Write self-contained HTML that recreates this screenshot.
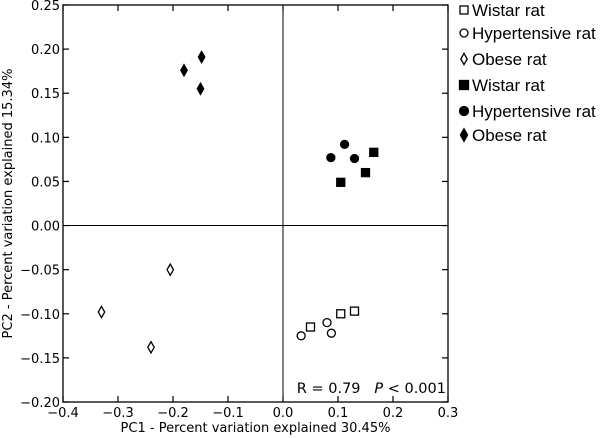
<!DOCTYPE html>
<html><head><meta charset="utf-8"><style>
body{margin:0;background:#fff;}
svg{display:block;font-family:"DejaVu Sans","Liberation Sans",sans-serif;}
</style></head><body>
<svg id="chart" width="600" height="438" viewBox="0 0 600 438">
<g id="axes"></g><g id="marks"></g><g id="legend"></g>
</svg>
<script>
const xTicks=[-0.4,-0.3,-0.2,-0.1,0.0,0.1,0.2,0.3];
const yTicks=[-0.20,-0.15,-0.10,-0.05,0.00,0.05,0.10,0.15,0.20,0.25];
const groupNames=["Wistar rat","Hypertensive rat","Obese rat","Wistar rat","Hypertensive rat","Obese rat"];
const groupShapes=["square","circle","diamond","square","circle","diamond"];
const groupFilled=[false,false,false,true,true,true];
const wistarOpenX=[0.105,0.13,0.05], wistarOpenY=[-0.1,-0.097,-0.115];
const hyperOpenX=[0.033,0.08,0.088], hyperOpenY=[-0.125,-0.11,-0.122];
const obeseOpenX=[-0.205,-0.33,-0.24], obeseOpenY=[-0.05,-0.098,-0.138];
const wistarFillX=[0.105,0.15,0.165], wistarFillY=[0.049,0.06,0.083];
const hyperFillX=[0.087,0.112,0.13], hyperFillY=[0.077,0.092,0.076];
const obeseFillX=[-0.18,-0.148,-0.15], obeseFillY=[0.176,0.191,0.155];
const seriesX=[wistarOpenX,hyperOpenX,obeseOpenX,wistarFillX,hyperFillX,obeseFillX];
const seriesY=[wistarOpenY,hyperOpenY,obeseOpenY,wistarFillY,hyperFillY,obeseFillY];

const L=63,R=448,T=5,B=402;
const xs=v=>L+(v+0.4)/0.7*(R-L);
const ys=v=>B-(v+0.2)/0.45*(B-T);
const NS="http://www.w3.org/2000/svg";
function mk(tag,attrs,parent){const e=document.createElementNS(NS,tag);for(const k in attrs)e.setAttribute(k,attrs[k]);parent.appendChild(e);return e;}
const axes=document.getElementById('axes'),marks=document.getElementById('marks'),legend=document.getElementById('legend');
const frame=mk('rect',{x:L,y:T,width:R-L,height:B-T,fill:'none',stroke:'#000','stroke-width':1.3},axes);

const vz=mk('line',{x1:xs(0),x2:xs(0),y1:T,y2:B,stroke:'#000','stroke-width':1},axes);

const hz=mk('line',{x1:L,x2:R,y1:ys(0),y2:ys(0),stroke:'#000','stroke-width':1},axes);

xTicks.forEach(v=>{const x=xs(v);
 mk('line',{x1:x,x2:x,y1:B,y2:B-6,stroke:'#000','stroke-width':1.2},axes);
 mk('line',{x1:x,x2:x,y1:T,y2:T+6,stroke:'#000','stroke-width':1.2},axes);
 const t=mk('text',{x:x,y:B+15,'text-anchor':'middle','font-size':13},axes);
 t.textContent=(v<0?'\u2212':'')+Math.abs(v).toFixed(1);
 });
yTicks.forEach(v=>{const y=ys(v);
 mk('line',{x1:L,x2:L+6,y1:y,y2:y,stroke:'#000','stroke-width':1.2},axes);
 mk('line',{x1:R,x2:R-6,y1:y,y2:y,stroke:'#000','stroke-width':1.2},axes);
 const t=mk('text',{x:L-3,y:y+5,'text-anchor':'end','font-size':13},axes);
 t.textContent=(v<0?'\u2212':'')+Math.abs(v).toFixed(2);
 });
const xt=mk('text',{x:xs(-0.05),y:432,'text-anchor':'middle','font-size':13},axes);
xt.textContent='PC1 - Percent variation explained 30.45%';

const yt=mk('text',{x:0,y:0,'text-anchor':'middle','font-size':13,transform:`translate(12,${(T+B)/2}) rotate(-90)`},axes);
yt.textContent='PC2 - Percent variation explained 15.34%';

const st=mk('text',{x:R-2,y:B-9,'text-anchor':'end','font-size':14.5},axes);
st.innerHTML='R = 0.79 &#160;&#160;<tspan font-style="italic">P</tspan> &lt; 0.001';


function marker(shape,filled,cx,cy,s,parent){
 const a={fill:filled?'#000':'#fff',stroke:'#000','stroke-width':1.3};
 if(shape==='square')return mk('rect',Object.assign({x:cx-s,y:cy-s,width:2*s,height:2*s},a),parent);
 if(shape==='circle')return mk('circle',Object.assign({cx:cx,cy:cy,r:s},a),parent);
 return mk('polygon',Object.assign({points:`${cx},${cy-s*1.4} ${cx+s*0.8},${cy} ${cx},${cy+s*1.4} ${cx-s*0.8},${cy}`},a),parent);
}
seriesX.forEach((xsArr,g)=>{xsArr.forEach((xv,i)=>{
 const m=marker(groupShapes[g],groupFilled[g],xs(xv),ys(seriesY[g][i]),4,marks);
 
 });});
const legY=[10,33,59,85,111,135];
groupNames.forEach((n,g)=>{
 const m=marker(groupShapes[g],groupFilled[g],464,legY[g],groupFilled[g]?4.5:4,legend);
 
 const t=mk('text',{x:472,y:legY[g]+6,'font-size':17,'font-family':'Liberation Sans, sans-serif'},legend);
 t.textContent=n;
 });
</script>
</body></html>
